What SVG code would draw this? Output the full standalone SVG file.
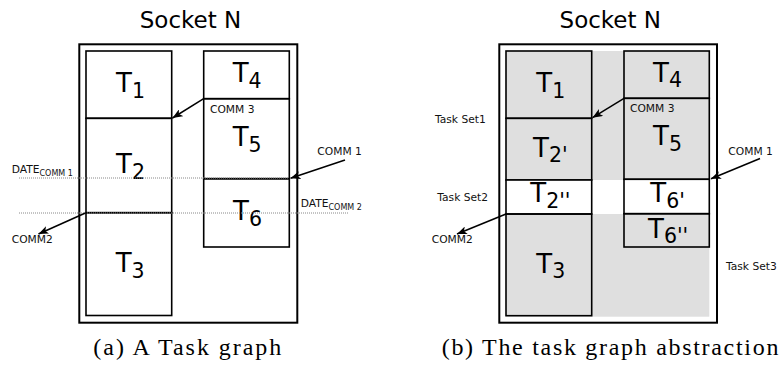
<svg xmlns="http://www.w3.org/2000/svg" width="780" height="365" viewBox="0 0 780 365">
<defs>
<style>
.title{font-family:"DejaVu Sans",sans-serif;font-size:23px;fill:#000;text-anchor:middle}
.outer{fill:none;stroke:#000;stroke-width:2}
.box{fill:none;stroke:#000;stroke-width:1.6}
.t{font-family:"DejaVu Sans",sans-serif;font-size:26px;fill:#000}
.sub{font-size:20.5px}
.sm{font-family:"DejaVu Sans",sans-serif;font-size:10.7px;fill:#111}
.ssub{font-size:8px}
.cap{font-family:"Liberation Serif",serif;font-size:24px;fill:#000}
.arr{stroke:#000;stroke-width:1.5;fill:none;marker-end:url(#ah)}
.dot{stroke:#888;stroke-width:1;stroke-dasharray:1 1;fill:none}
.gray{fill:#dfdfdf}
</style>
<marker id="ah" viewBox="0 0 10 8" refX="10" refY="4" markerWidth="10" markerHeight="8" markerUnits="userSpaceOnUse" orient="auto">
<path d="M0,0 L10,4 L0,8 L2.5,4 z" fill="#000"/>
</marker>
</defs>
<rect width="780" height="365" fill="#fff"/>

<!-- Panel (a) -->
<g id="panel-a">
<text class="title" x="190.5" y="28.3">Socket N</text>
<g id="a-socket"><rect class="outer" x="79.3" y="44.3" width="218" height="278.4"/></g>
<g id="a-T1"><rect class="box" x="86" y="51" width="85.7" height="67.3"/><text class="t" x="116" y="92">T<tspan class="sub" dy="6">1</tspan></text></g>
<g id="a-T2"><rect class="box" x="86" y="118.3" width="85.7" height="94.4"/><text class="t" x="116" y="172.7">T<tspan class="sub" dy="6">2</tspan></text></g>
<g id="a-T3"><rect class="box" x="86" y="212.7" width="85.7" height="102.8"/><text class="t" x="115.7" y="272">T<tspan class="sub" dy="5.5">3</tspan></text></g>
<g id="a-T4"><rect class="box" x="203.7" y="51" width="85.6" height="47.7"/><text class="t" x="232.7" y="82.3">T<tspan class="sub" dy="6">4</tspan></text></g>
<g id="a-T5"><rect class="box" x="203.7" y="98.7" width="85.6" height="80"/><text class="t" x="232.7" y="145.5">T<tspan class="sub" dy="6">5</tspan></text></g>
<g id="a-T6"><rect class="box" x="203.7" y="178.7" width="85.6" height="68.3"/><text class="t" x="233" y="220">T<tspan class="sub" dy="6">6</tspan></text></g>
<g id="a-labels">
<text class="sm" x="210" y="112.7">COMM 3</text>
<text class="sm" x="317.3" y="155">COMM 1</text>
<text class="sm" x="11.7" y="243.3">COMM2</text>
<text class="sm" x="11.7" y="172.7">DATE<tspan class="ssub" dy="2.8">COMM 1</tspan></text>
<text class="sm" x="300.7" y="206.7">DATE<tspan class="ssub" dy="2.8">COMM 2</tspan></text>
</g>
</g>

<!-- Panel (b) -->
<g id="panel-b">
<text class="title" x="610.3" y="28.3">Socket N</text>
<g id="b-fill">
<rect class="gray" x="506" y="51" width="203.3" height="129"/>
<rect class="gray" x="506" y="214" width="203.3" height="102.7"/>
</g>
<g id="b-socket"><rect class="outer" x="499.3" y="44.3" width="217.7" height="278.4"/></g>
<g id="b-T1"><rect class="box" x="506" y="51" width="85.7" height="67.3"/><text class="t" x="536.3" y="92">T<tspan class="sub" dy="5.5">1</tspan></text></g>
<g id="b-T2p"><rect class="box" x="506" y="118.3" width="85.7" height="61.7"/><text class="t" x="533" y="156.7">T<tspan class="sub" dy="5.5">2'</tspan></text></g>
<g id="b-T2pp"><rect x="506" y="180" width="85.7" height="34" fill="#fff" stroke="#000" stroke-width="1.6"/><text class="t" x="530.3" y="201.7">T<tspan class="sub" dy="6">2''</tspan></text></g>
<g id="b-T3"><rect class="box" x="506" y="214" width="85.7" height="101.7"/><text class="t" x="536.3" y="272.5">T<tspan class="sub" dy="5">3</tspan></text></g>
<g id="b-T4"><rect class="box" x="624" y="51" width="85.3" height="47.3"/><text class="t" x="653" y="81.7">T<tspan class="sub" dy="5.6">4</tspan></text></g>
<g id="b-T5"><rect class="box" x="624" y="98.3" width="85.3" height="81"/><text class="t" x="653" y="145">T<tspan class="sub" dy="6">5</tspan></text></g>
<g id="b-T6p"><rect x="624" y="179.3" width="85.3" height="34.4" fill="#fff" stroke="#000" stroke-width="1.6"/><text class="t" x="650.3" y="201.7">T<tspan class="sub" dy="6">6'</tspan></text></g>
<g id="b-T6pp"><rect class="box" x="624" y="213.7" width="85.3" height="33.3"/><text class="t" x="648" y="237.7">T<tspan class="sub" dy="5.6">6''</tspan></text></g>
<g id="b-labels">
<text class="sm" x="630" y="111.7">COMM 3</text>
<text class="sm" x="728.3" y="154.5">COMM 1</text>
<text class="sm" x="431.7" y="243.3">COMM2</text>
<text class="sm" x="435" y="123.3">Task Set1</text>
<text class="sm" x="437.3" y="200.7">Task Set2</text>
<text class="sm" x="726" y="270.3">Task Set3</text>
</g>
</g>

<g id="connectors">
<line class="dot" x1="19" y1="178" x2="289" y2="178"/>
<line class="dot" x1="19" y1="213" x2="348" y2="213"/>
<line class="arr" x1="203.7" y1="98.7" x2="172.5" y2="118"/>
<line class="arr" x1="345" y1="160" x2="290.5" y2="178.3"/>
<line class="arr" x1="86" y1="212.7" x2="38.5" y2="234"/>
<line class="arr" x1="624" y1="98.3" x2="592.5" y2="117.7"/>
<line class="arr" x1="760" y1="158.5" x2="711" y2="178.8"/>
<line class="arr" x1="506" y1="214" x2="457" y2="234"/>
</g>

<g id="captions">
<text class="cap" x="93.3" y="355" textLength="188" lengthAdjust="spacing">(a) A Task graph</text>
<text class="cap" x="441.7" y="355" textLength="336.7" lengthAdjust="spacing">(b) The task graph abstraction</text>
</g>
</svg>
